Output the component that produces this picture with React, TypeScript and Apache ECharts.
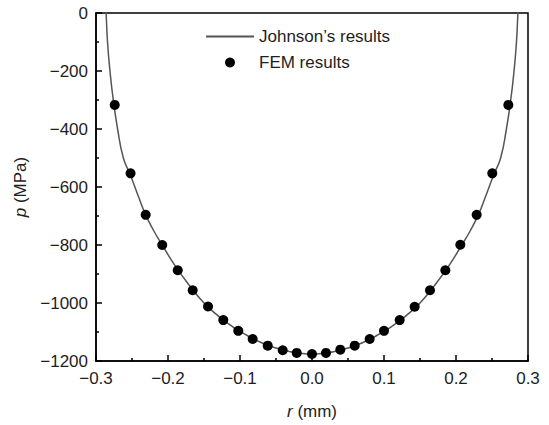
import React, { useEffect, useRef } from "react";
import * as echarts from "echarts";

// FEM results
const femR = [-0.274, -0.252, -0.231, -0.208, -0.1865, -0.1657, -0.1444, -0.1232, -0.1024, -0.0824, -0.0615, -0.0407, -0.0212, 0.0,
  0.0194, 0.0393, 0.0593, 0.0801, 0.1, 0.1218, 0.1426, 0.1639, 0.1852, 0.206, 0.2287, 0.2504, 0.2727];
const femP = [-317, -553, -696, -800, -887, -956, -1012, -1059, -1096, -1124, -1147, -1163, -1172, -1176,
  -1172, -1161, -1147, -1124, -1096, -1059, -1013, -956, -887, -799, -696, -553, -317];

// Johnson's results
const johnR = [-0.2875, -0.286, -0.284, -0.2806, -0.276, -0.27, -0.262, -0.252, -0.24, -0.231, -0.22, -0.208, -0.19, -0.17, -0.15,
  -0.13, -0.11, -0.09, -0.07, -0.05, -0.03, -0.01, 0, 0.01, 0.03, 0.05, 0.07, 0.09, 0.11, 0.13, 0.15, 0.17, 0.19, 0.208,
  0.22, 0.231, 0.24, 0.252, 0.262, 0.27, 0.276, 0.2806, 0.284, 0.286, 0.2875];
const johnP = [60, 0, -100, -200, -300, -400, -500, -560, -640, -696, -750, -800, -872, -940, -1000,
  -1045, -1082, -1112, -1137, -1155, -1168, -1175, -1177, -1175, -1168, -1155, -1137, -1112, -1082, -1045, -1000, -940, -872, -800,
  -750, -696, -640, -560, -500, -400, -300, -200, -100, 0, 60];

const xTicks = { min: -0.3, max: 0.3, interval: 0.1 };
const yTicks = { min: -1200, max: 0, interval: 200 };

const seriesNames = ["Johnson\u2019s results", "FEM results"];

const fmtMinus = (s: string) => s.replace("-", "\u2212");

export default function App() {
  const ref = useRef<HTMLDivElement>(null);
  useEffect(() => {
    if (!ref.current) return;
    document.body.style.margin = "0";
    const chart = echarts.init(ref.current, null, { renderer: "svg" });
    const font = "Liberation Sans, Arial, sans-serif";
    const fs = 17;
    const tc = "#1e1e1e";
    chart.setOption({
      animation: false,
      textStyle: { fontFamily: font },
      grid: {
        left: 96, right: 21, top: 13, bottom: 63,
        show: true, borderColor: "#000", borderWidth: 1.5, backgroundColor: "transparent",
      },
      legend: {
        left: 200, top: 23, orient: "vertical", itemWidth: 48, itemHeight: 10, itemGap: 9,
        textStyle: { fontSize: fs, color: tc, fontFamily: font },
        data: [
          { name: seriesNames[0], itemStyle: { opacity: 0 } },
          { name: seriesNames[1] },
        ],
      },
      xAxis: {
        type: "value", min: xTicks.min, max: xTicks.max, interval: xTicks.interval,
        axisLine: { show: true, onZero: false, lineStyle: { color: "#000", width: 1.5 } },
        axisTick: { show: true, inside: true, length: 6, lineStyle: { color: "#000", width: 1.5 } },
        minorTick: { show: true, splitNumber: 2, length: 3, lineStyle: { color: "#000", width: 1.5 } },
        splitLine: { show: false },
        axisLabel: {
          fontSize: fs, color: tc, margin: 9, fontFamily: font,
          formatter: (v: number) => (Math.abs(v) < 1e-9 ? "0.0" : fmtMinus(v.toFixed(1))),
        },
        name: "{i|r} (mm)", nameLocation: "middle", nameGap: 42,
        nameTextStyle: {
          fontSize: fs, color: tc, fontFamily: font,
          rich: { i: { fontStyle: "italic", fontSize: fs, color: tc, fontFamily: font } },
        },
      },
      yAxis: {
        type: "value", min: yTicks.min, max: yTicks.max, interval: yTicks.interval,
        axisLine: { show: true, onZero: false, lineStyle: { color: "#000", width: 1.5 } },
        axisTick: { show: true, inside: true, length: 6, lineStyle: { color: "#000", width: 1.5 } },
        minorTick: { show: true, splitNumber: 2, length: 3, lineStyle: { color: "#000", width: 1.5 } },
        splitLine: { show: false },
        axisLabel: {
          fontSize: fs, color: tc, margin: 8, fontFamily: font,
          formatter: (v: number) => fmtMinus(String(v)),
        },
        name: "{i|p} (MPa)", nameLocation: "middle", nameGap: 64, nameRotate: 90,
        nameTextStyle: {
          fontSize: fs, color: tc, fontFamily: font,
          rich: { i: { fontStyle: "italic", fontSize: fs, color: tc, fontFamily: font } },
        },
      },
      series: [
        {
          name: seriesNames[0], type: "line", symbol: "none", clip: true, smooth: true,
          lineStyle: { color: "#555", width: 1.5 }, itemStyle: { color: "#555" },
          data: johnR.map((r, i) => [r, johnP[i]]),
          z: 1,
        },
        {
          name: seriesNames[1], type: "scatter", symbol: "circle", symbolSize: 10,
          itemStyle: { color: "#000", opacity: 1 },
          data: femR.map((r, i) => [r, femP[i]]),
          z: 2,
        },
      ],
    });
    return () => chart.dispose();
  }, []);
  return <div ref={ref} style={{ width: 549, height: 425 }} />;
}
